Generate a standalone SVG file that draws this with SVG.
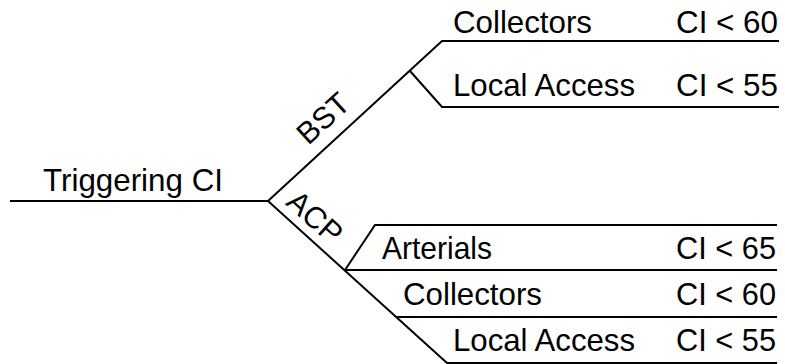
<svg xmlns="http://www.w3.org/2000/svg" width="785" height="364" viewBox="0 0 785 364">
  <style>
    .ln { fill: none; stroke: #000; stroke-width: 2; stroke-linejoin: miter; stroke-linecap: butt; }
    .t { font-family: "Liberation Sans", Arial, sans-serif; font-size: 30.5px; fill: #000; }
  </style>
  <rect width="785" height="364" fill="#fff"/>

  <!-- connectors: decision tree branches -->
  <g id="connectors">
    <path class="ln" d="M10,201 H268"/>
    <!-- BST branch -->
    <path class="ln" d="M268,201 L442,41 H779"/>
    <path class="ln" d="M410,71 L442,107 H779"/>
    <!-- ACP branch -->
    <path class="ln" d="M268,201 L447,363 H777"/>
    <path class="ln" d="M345,270 L375,225 H777"/>
    <path class="ln" d="M345,270 H777"/>
    <path class="ln" d="M396,317 H777"/>
  </g>

  <g id="root">
    <text class="t" x="43" y="191" textLength="180" lengthAdjust="spacingAndGlyphs">Triggering CI</text>
  </g>

  <g id="bst-label">
    <text class="t" text-anchor="middle" transform="translate(330,126) rotate(-42.5)">BST</text>
  </g>
  <g id="acp-label">
    <text class="t" text-anchor="middle" transform="translate(308,225) rotate(42)">ACP</text>
  </g>

  <g id="bst-collectors">
    <text class="t" x="453" y="33" textLength="139" lengthAdjust="spacingAndGlyphs">Collectors</text>
    <text class="t" x="676" y="33" textLength="102" lengthAdjust="spacingAndGlyphs">CI &lt; 60</text>
  </g>
  <g id="bst-local-access">
    <text class="t" x="453" y="96" textLength="182" lengthAdjust="spacingAndGlyphs">Local Access</text>
    <text class="t" x="676" y="96" textLength="102" lengthAdjust="spacingAndGlyphs">CI &lt; 55</text>
  </g>

  <g id="acp-arterials">
    <text class="t" x="382" y="259" textLength="110" lengthAdjust="spacingAndGlyphs">Arterials</text>
    <text class="t" x="676" y="259" textLength="100" lengthAdjust="spacingAndGlyphs">CI &lt; 65</text>
  </g>
  <g id="acp-collectors">
    <text class="t" x="403" y="305" textLength="139" lengthAdjust="spacingAndGlyphs">Collectors</text>
    <text class="t" x="676" y="305" textLength="100" lengthAdjust="spacingAndGlyphs">CI &lt; 60</text>
  </g>
  <g id="acp-local-access">
    <text class="t" x="453" y="351" textLength="182" lengthAdjust="spacingAndGlyphs">Local Access</text>
    <text class="t" x="676" y="351" textLength="100" lengthAdjust="spacingAndGlyphs">CI &lt; 55</text>
  </g>
</svg>
